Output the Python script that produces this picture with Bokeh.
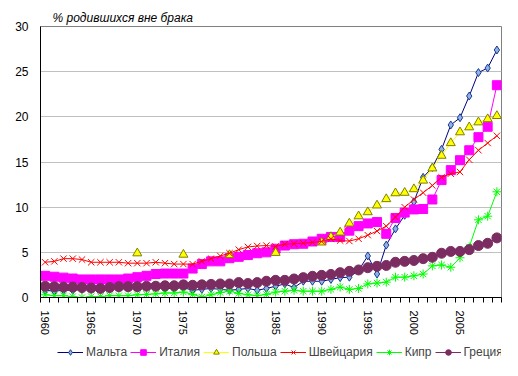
from bokeh.plotting import figure
from bokeh.layouts import column
from bokeh.models import Range1d, FixedTicker, Legend, LegendItem, Title
from bokeh.embed import file_html
from bokeh.resources import INLINE

nan = float("nan")
years = list(range(1960, 2010))

malta = [0.8, 0.7, 0.8, 0.8, 0.9, 0.9, 1.0, 1.1, 1.2, 1.3,
         1.5, 1.2, 1.1, 1.0, 1.0, 1.1, 0.8, 0.9, 1.0, 0.9,
         0.8, 0.9, 1.0, 0.8, 1.0, 1.25, 1.5, 1.1, 1.8, 1.8,
         1.8, 2.0, 2.2, 2.25, 3.0, 4.6, 2.6, 5.8, 7.6, 9.1,
         10.6, 13.3, 14.4, 16.4, 19.1, 19.9, 22.3, 24.9, 25.4, 27.4]
italy = [2.4, 2.3, 2.2, 2.1, 2.0, 2.0, 2.0, 2.0, 2.0, 2.1,
         2.25, 2.4, 2.6, 2.65, 2.65, 2.65, 3.2, 3.7, 4.0, 4.0,
         4.35, 4.5, 4.7, 4.9, 5.0, 5.4, 5.75, 5.9, 5.95, 6.2,
         6.5, 6.7, 6.7, 7.4, 7.9, 8.2, 8.35, 7.05, 8.8, 9.4,
         9.75, 9.8, 10.85, 13.0, 14.1, 15.2, 16.3, 17.75, 18.9, 23.5]
poland = [nan, nan, nan, nan, nan, nan, nan, nan, nan, nan,
          4.9, nan, nan, nan, nan, 4.75, nan, nan, nan, nan,
          4.7, nan, nan, nan, nan, 4.95, nan, nan, nan, nan,
          6.1, 6.7, 7.2, 8.2, 9.0, 9.45, 10.2, 10.9, 11.55, 11.6,
          12.0, 12.95, 14.3, 15.7, 17.1, 18.3, 18.85, 19.4, 19.75, 20.1]
switzerland = [3.9, 4.0, 4.3, 4.3, 4.2, 3.9, 3.9, 3.9, 3.9, 3.8,
               3.8, 3.8, 3.9, 3.8, 3.7, 3.7, 3.7, 4.0, 4.3, 4.6,
               4.9, 5.3, 5.6, 5.7, 5.75, 5.65, 5.9, 5.95, 6.0, 6.1,
               6.2, 6.5, 6.3, 6.25, 6.5, 6.9, 7.35, 7.9, 8.9, 10.0,
               10.85, 11.6, 12.4, 13.3, 13.7, 13.9, 15.25, 16.3, 17.1, 17.9]
cyprus = [0.3, 0.2, 0.2, 0.1, 0.0, 0.1, 0.1, 0.2, 0.2, 0.2,
          0.3, 0.35, 0.4, 0.5, 0.5, 0.6, 0.35, 0.05, 0.3, 0.55,
          0.7, 0.45, 0.3, 0.2, 0.35, 0.6, 0.7, 0.8, 0.7, 0.7,
          0.7, 0.9, 1.15, 0.9, 1.0, 1.5, 1.6, 1.7, 2.25, 2.25,
          2.4, 2.6, 3.5, 3.6, 3.35, 4.4, 5.6, 8.6, 9.0, 11.7]
greece = [1.25, 1.2, 1.15, 1.15, 1.1, 1.05, 1.0, 1.1, 1.2, 1.2,
          1.2, 1.25, 1.25, 1.3, 1.3, 1.4, 1.35, 1.4, 1.45, 1.5,
          1.5, 1.65, 1.55, 1.65, 1.8, 1.9, 1.9, 2.05, 2.2, 2.35,
          2.45, 2.55, 2.75, 2.9, 3.05, 3.3, 3.45, 3.55, 3.9, 4.0,
          4.1, 4.3, 4.45, 4.9, 5.1, 5.1, 5.3, 5.75, 6.0, 6.6]

names = ["Мальта", "Италия", "Польша", "Швейцария", "Кипр", "Греция"]
x_tick_labels = [1960, 1965, 1970, 1975, 1980, 1985, 1990, 1995, 2000, 2005]
y_ticks = [0, 5, 10, 15, 20, 25, 30]
title_text = "% родившихся вне брака"

FONT = "Liberation Sans"

p = figure(width=518, height=340, output_backend="svg", toolbar_location=None,
           x_range=Range1d(1959.5, 2009.5), y_range=Range1d(0, 30),
           min_border_left=40, min_border_right=17, min_border_top=26,
           min_border_bottom=43, title=None)
p.background_fill_color = "white"
p.border_fill_color = "white"
p.outline_line_color = "#808080"
p.outline_line_width = 1

# axes
p.xaxis.ticker = FixedTicker(ticks=x_tick_labels,
                             minor_ticks=[y - 0.5 for y in years] + [2009.5])
p.xaxis.major_tick_out = 0
p.xaxis.major_tick_in = 0
p.xaxis.minor_tick_out = 5
p.xaxis.minor_tick_in = 0
p.xaxis.minor_tick_line_color = "black"
p.xaxis.axis_line_color = "black"
p.xaxis.major_label_orientation = "vertical"
p.xaxis.major_label_standoff = 8
p.xaxis.major_label_text_font = FONT
p.xaxis.major_label_text_font_size = "11px"
p.xaxis.major_label_text_color = "black"

p.yaxis.ticker = FixedTicker(ticks=y_ticks)
p.yaxis.major_tick_out = 0
p.yaxis.major_tick_in = 0
p.yaxis.minor_tick_out = 0
p.yaxis.minor_tick_in = 0
p.yaxis.axis_line_color = "black"
p.yaxis.major_label_standoff = 12
p.yaxis.major_label_text_font = FONT
p.yaxis.major_label_text_font_size = "12px"
p.yaxis.major_label_text_color = "black"

p.xgrid.grid_line_color = None
p.ygrid.grid_line_color = "#c0c0c0"
p.ygrid.grid_line_width = 1

styles = [
    dict(data=malta, line="#000080", marker="diamond", size=8, fill="#8fb2e6", outline="#1a3a8f"),
    dict(data=italy, line="#ff00ff", marker="square", size=9, fill="#ff00ff", outline="#ff00ff"),
    dict(data=poland, line="#ffff00", marker="triangle", size=9, fill="#ffff00", outline="#808000"),
    dict(data=switzerland, line="#ff0000", marker="x", size=9, fill="#ff0000", outline="#ff0000"),
    dict(data=cyprus, line="#00ff00", marker="asterisk", size=9, fill="#00ff00", outline="#00ff00"),
    dict(data=greece, line="#7b2d62", marker="circle", size=10, fill="#7b2d62", outline="#7b2d62"),
]

for st in styles:
    p.line(years, st["data"], line_color=st["line"], line_width=1)
    p.scatter(years, st["data"], marker=st["marker"], size=st["size"],
              fill_color=st["fill"], line_color=st["outline"], line_width=1)

title = Title(text=title_text, align="left", offset=12, standoff=4,
              text_font=FONT, text_font_style="italic", text_font_size="12px",
              text_color="black")
p.add_layout(title, "above")

# legend strip below the chart (series drawn outside its visible range,
# so only the legend entries show)
lg = figure(width=518, height=36, output_backend="svg", toolbar_location=None,
            x_range=Range1d(0, 1), y_range=Range1d(0, 1),
            x_axis_location=None, y_axis_location=None,
            min_border_left=0, min_border_right=0, min_border_top=0,
            min_border_bottom=0, title=None)
lg.grid.visible = False
lg.outline_line_color = None
lg.background_fill_color = "white"
lg.border_fill_color = "white"

items = []
for name, st in zip(names, styles):
    lr = lg.line(years, st["data"], line_color=st["line"], line_width=1)
    sr = lg.scatter(years, st["data"], marker=st["marker"], size=st["size"],
                    fill_color=st["fill"], line_color=st["outline"], line_width=1)
    items.append(LegendItem(label=name, renderers=[lr, sr]))

legend = Legend(items=items, location=(17, 17), orientation="horizontal",
                padding=0, margin=0, spacing=3, glyph_width=26, glyph_height=14,
                label_height=14, label_standoff=3,
                label_text_font=FONT, label_text_font_size="12px",
                background_fill_alpha=0, border_line_alpha=0)
lg.add_layout(legend)

layout = column(p, lg, spacing=0)
open("out.html", "w").write(file_html(layout, INLINE))
